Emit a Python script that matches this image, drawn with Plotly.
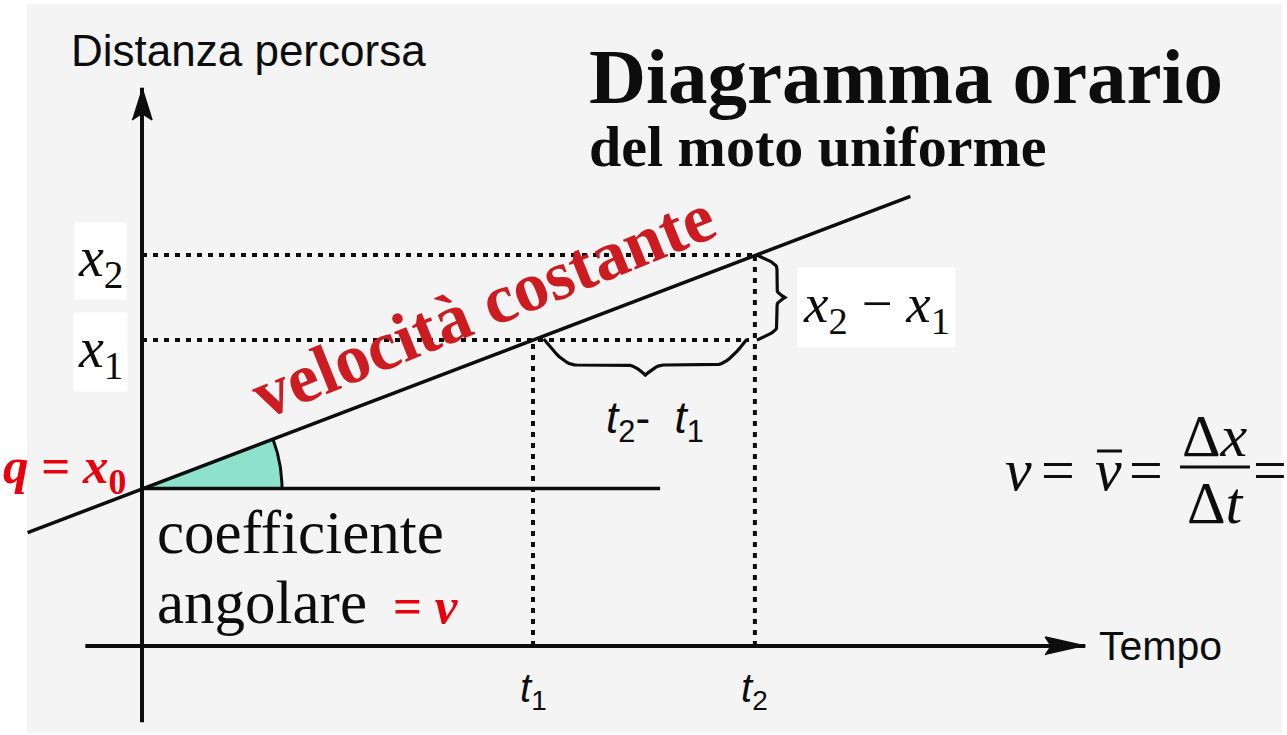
import math
import plotly.graph_objects as go

# ---- quantities of the uniform-motion time diagram (arbitrary units) ----
T1, T2 = 4.0, 6.27            # instants t1, t2
X0, X1, X2 = 1.61, 3.13, 4.0  # intercept q = x0 and positions x1, x2
T_LINE = [-1.17, 7.86]        # extent of the x(t) line
X_LINE = [1.16, 4.60]
T_AXIS = [-0.58, 9.65]        # time axis extent
X_AXIS = [-0.78, 5.71]        # distance axis extent
T_BASE_END = 5.3              # end of the horizontal reference at x0

# ---- drawing frame: one data unit = PX pixels, origin at (OX, OY) ----
W, H = 1287, 735
PX, OX, OY = 97.75, 142, 646


def tx(p):
    return (p - OX) / PX


def ty(p):
    return (OY - p) / PX


SERIF = "Liberation Serif"
SANS = "Liberation Sans"
BLACK = "#0d0d0d"
RED = "#e8000d"
DARK_RED = "#cc1c22"

fig = go.Figure()


def line(xs, ys, width=3, dash=None, color=BLACK):
    fig.add_trace(go.Scatter(x=xs, y=ys, mode="lines",
                             line=dict(color=color, width=width, dash=dash),
                             hoverinfo="skip", showlegend=False))


def poly(xs, ys, fill, width=0, color=BLACK):
    fig.add_trace(go.Scatter(x=xs, y=ys, mode="lines", fill="toself",
                             fillcolor=fill,
                             line=dict(color=color, width=width),
                             hoverinfo="skip", showlegend=False))


def brace(a, b, depth, normal):
    """Curly brace from point a to point b, bulging along `normal`."""
    (ax, ay), (bx, by) = a, b
    nx, ny = normal
    xs, ys = [], []
    n = 80
    e1, e2 = 0.16, 0.09
    for i in range(n + 1):
        u = i / n
        s = min(u, 1 - u)
        c = min(s / e1, 1.0)
        off = 0.72 * depth * math.sin(c * math.pi / 2)
        k = max(0.0, (s - (0.5 - e2)) / e2)
        off += 0.28 * depth * (1 - math.cos(k * math.pi / 2))
        xs.append(ax + (bx - ax) * u + nx * off)
        ys.append(ay + (by - ay) * u + ny * off)
    line(xs, ys, width=3.2)


# green wedge for the slope angle
theta = math.atan((X_LINE[1] - X_LINE[0]) / (T_LINE[1] - T_LINE[0]))
r = 140 / PX
arc = [theta * (1 - i / 40) for i in range(41)]
poly([0] + [r * math.cos(a) for a in arc] + [0],
     [X0] + [X0 + r * math.sin(a) for a in arc] + [X0],
     fill="#8ee2cc")
line([r * math.cos(a) for a in arc], [X0 + r * math.sin(a) for a in arc], width=3)

# dotted guide lines
DOT = "5px,6px"
line([0, T2], [X2, X2], width=4, dash=DOT)
line([0, T2 - 0.06], [X1, X1], width=4, dash=DOT)
line([T1, T1], [0, X1], width=4, dash=DOT)
line([T2, T2], [0, X2], width=4, dash=DOT)

# axes
line(T_AXIS, [0, 0], width=4)
line([0, 0], X_AXIS, width=4)
hl, hw = 40 / PX, 9 / PX
poly([T_AXIS[1], T_AXIS[1] - hl, T_AXIS[1] - hl * 0.85, T_AXIS[1] - hl],
     [0, hw, 0, -hw], fill=BLACK, width=1.5)
vl, vw = 32 / PX, 10 / PX
poly([0, vw, 0, -vw], [X_AXIS[1], X_AXIS[1] - vl, X_AXIS[1] - vl * 0.8, X_AXIS[1] - vl],
     fill=BLACK, width=1.5)

# horizontal reference at x0 and the x(t) line
line([0, T_BASE_END], [X0, X0], width=3.5)
line(T_LINE, X_LINE, width=3.5)

# braces for the increments
brace((T2 + 0.02, X2), (T2 + 0.02, X1), 28 / PX, (1, 0))
brace((T1 + 0.11, X1 + 0.01), (T2 - 0.08, X1 + 0.01), 36 / PX, (0, -1))

annotations = []


def text(x, y, s, size, family=SERIF, color=BLACK, xanchor="center",
         yanchor="middle", angle=0, bg=None, pad=0, xshift=0, yshift=0):
    a = dict(
        x=x, y=y, xref="x", yref="y", text=s, showarrow=False,
        xanchor=xanchor, yanchor=yanchor, textangle=angle,
        font=dict(family=family, size=size, color=color),
        borderpad=pad, xshift=xshift, yshift=yshift)
    if bg is not None:
        a["bgcolor"] = bg
    annotations.append(a)


# titles
text(tx(70), ty(50), "Distanza percorsa", 44, family=SANS, xanchor="left")
text(tx(588), ty(76), "<b>Diagramma orario</b>", 79, xanchor="left")
text(tx(588), ty(146), "<b>del moto uniforme</b>", 58, xanchor="left")
text(tx(1098), ty(646), "Tempo", 41, family=SANS, xanchor="left")

# sloped label
text(tx(483), ty(305), "<b>velocità costante</b>", 70, color=DARK_RED, angle=-22)

# value labels on the axes
text(0, X2, "<i>x</i><sub>2</sub>", 56, bg="#ffffff", pad=3, xshift=-42, yshift=-6)
text(0, X1, "<i>x</i><sub>1</sub>", 56, bg="#ffffff", pad=4, xshift=-42, yshift=-12)
text(T1, 0, "<i>t</i><sub>1</sub>", 40, family=SANS, yshift=-45)
text(T2, 0, "<i>t</i><sub>2</sub>", 40, family=SANS, yshift=-45)

# increment labels
text(tx(876), ty(307), "<i>x</i><sub>2</sub> − <i>x</i><sub>1</sub>", 55, bg="#ffffff", pad=5)
text(tx(655), ty(421), "<i>t</i><sub>2</sub>-  <i>t</i><sub>1</sub>", 44, family=SANS)

# intercept and slope
text(tx(2), ty(470), "<b><i>q</i> = <i>x</i><sub>0</sub></b>", 51, color=RED, xanchor="left")
text(tx(156), ty(532), "coefficiente", 61, xanchor="left")
text(tx(156), ty(602), "angolare", 61, xanchor="left")
text(tx(392), ty(606), "<b>= <i>v</i></b>", 51, color=RED, xanchor="left")

# average velocity formula
FS = 60
text(tx(1018), ty(470), "<i>v</i>", FS)
text(tx(1058), ty(470), "=", FS)
text(tx(1108), ty(470), "<i>v</i>", FS)
text(tx(1146), ty(470), "=", FS)
text(tx(1215), ty(436), "Δ<i>x</i>", FS)
text(tx(1215), ty(503), "Δ<i>t</i>", FS)
text(tx(1270), ty(470), "=", FS)

shapes = [
    # page background of the scanned sheet
    dict(type="rect", xref="x", yref="y", layer="below",
         x0=tx(27), x1=tx(1282), y0=ty(4), y1=ty(733),
         fillcolor="#f4f4f4", line=dict(width=0)),
    # fraction bar and mean bar
    dict(type="line", xref="x", yref="y", x0=tx(1180), x1=tx(1250),
         y0=ty(467), y1=ty(467), line=dict(color=BLACK, width=3)),
    dict(type="line", xref="x", yref="y", x0=tx(1097), x1=tx(1122),
         y0=ty(451), y1=ty(451), line=dict(color=BLACK, width=3)),
]

fig.update_layout(
    width=W, height=H, autosize=False,
    margin=dict(l=0, r=0, t=0, b=0, pad=0),
    paper_bgcolor="#ffffff", plot_bgcolor="rgba(0,0,0,0)",
    xaxis=dict(range=[tx(0), tx(W)], visible=False, fixedrange=True),
    yaxis=dict(range=[ty(H), ty(0)], visible=False, fixedrange=True),
    annotations=annotations, shapes=shapes, showlegend=False,
)

fig.write_html("out.html", config={"displayModeBar": False})
